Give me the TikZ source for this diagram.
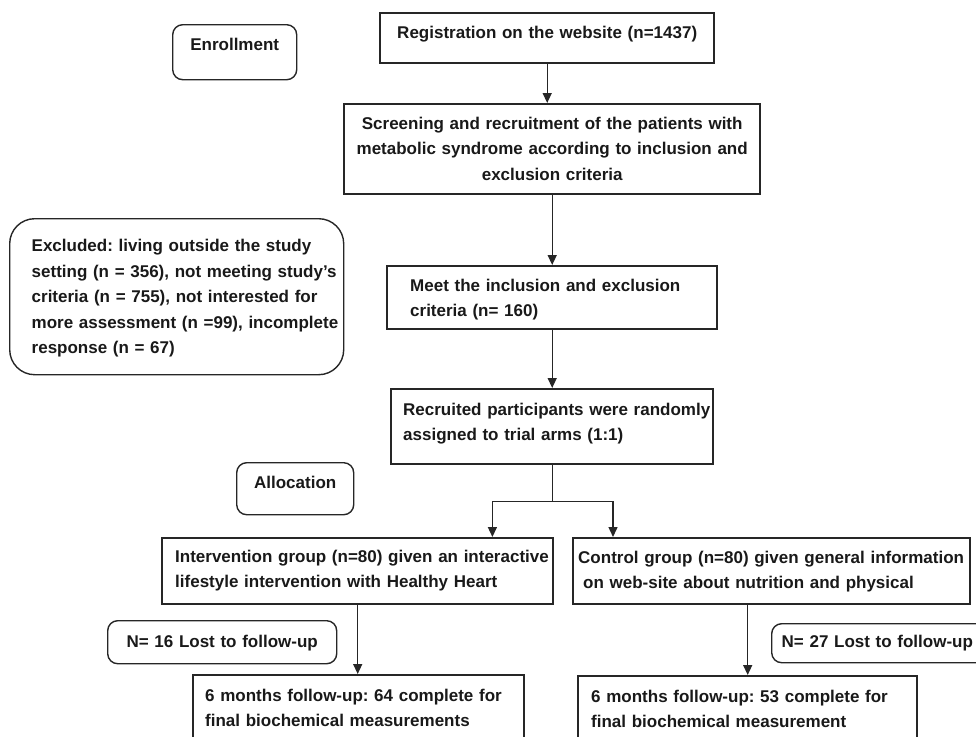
\documentclass[tikz,border=0pt]{standalone}
\usepackage{fontspec}
\setmainfont{Liberation Sans}
\usepackage{tikz}
\usetikzlibrary{arrows.meta, positioning}
\frenchspacing

\begin{document}
\begin{tikzpicture}[x=1pt, y=-1pt, >={Triangle[length=10pt,width=9pt]},
    font=\fontsize{17}{25.5}\selectfont\bfseries,
    box/.style={draw=black!85, line width=2.4pt, text=black!90, inner ysep=0pt, anchor=north west},
    rbox/.style={box, line width=1.4pt, rounded corners=10pt},
    link/.style={draw=black!85, line width=1.4pt}]
      \useasboundingbox (0,0) rectangle (976,736);
      % phase labels
      \node[rbox, align=center, text width=108pt, inner xsep=8pt, text height=26pt, text depth=29pt]
        (enroll) at (172,24) {Enrollment};
      \node[rbox, align=center, text width=101pt, inner xsep=8pt, text height=26pt, text depth=26pt]
        (alloc) at (236,462) {Allocation};
      % main column
      \node[box, align=center, text width=318pt, inner xsep=8pt, text height=25pt, text depth=25pt]
        (reg) at (379,12) {Registration on the website (n=1437)};
      \node[box, align=center, text width=400pt, inner xsep=8pt, text height=25pt, text depth=65pt]
        (screen) at (343,103) {Screening and recruitment of the patients with\\
        metabolic syndrome according to inclusion and\\ exclusion criteria};
      \node[box, align=left, text width=284pt, inner xsep=23pt, text height=25pt, text depth=38pt]
        (meet) at (386,265) {Meet the inclusion and exclusion\\ criteria (n= 160)};
      \node[box, align=left, text width=298pt, inner xsep=12pt, text height=26pt, text depth=49pt]
        (recr) at (390,388) {\mbox{Recruited participants were randomly}\\ assigned to trial arms (1:1)};
      % excluded
      \node[rbox, rounded corners=25pt, align=left, text width=290pt, inner xsep=22pt,
        text height=33pt, text depth=123pt]
        (excl) at (9,218) {Excluded: living outside the study\\
        \mbox{setting (n = 356), not meeting study's}\\
        criteria (n = 755), not interested for\\
        \mbox{more assessment (n =99), incomplete}\\
        response (n = 67)};
      % the two arms
      \node[box, align=left, text width=365pt, inner xsep=13pt, text height=24pt, text depth=42pt]
        (inter) at (161,537) {\mbox{Intervention group (n=80) given an interactive}\\
        lifestyle intervention with Healthy Heart};
      \node[box, align=left, text width=387pt, inner xsep=5pt, text height=25pt, text depth=41pt]
        (ctrl) at (572,537) {\mbox{Control group (n=80) given general information}\\
        \hspace*{5pt}on web-site about nutrition and physical};
      % losses
      \node[rbox, align=center, text width=213pt, inner xsep=8pt, text height=27pt, text depth=16pt]
        (lost1) at (107,620) {N= 16 Lost to follow-up};
      \node[rbox, align=left, text width=210pt, inner xsep=10pt, text height=24pt, text depth=15pt]
        (lost2) at (771,623) {N= 27 Lost to follow-up};
      % follow-up
      \node[box, align=left, text width=307pt, inner xsep=12pt, text height=26pt, text depth=50pt]
        (fu1) at (192,674) {6 months follow-up: 64 complete for\\ final biochemical measurements};
      \node[box, align=left, text width=313pt, inner xsep=13pt, text height=26pt, text depth=49pt]
        (fu2) at (577,675) {6 months follow-up: 53 complete for\\ final biochemical measurement};
      % arrows
      \draw[link, ->] (reg.south) -- (reg.south |- screen.north);
      \draw[link, ->] (screen.south) -- (meet.north);
      \draw[link, ->] (meet.south) -- (recr.north);
      \coordinate (split) at ([yshift=-36pt]recr.south);
      \draw[link] (recr.south) -- (split);
      \draw[link, ->] (split) -| ([xshift=-62pt]inter.north east);
      \draw[link, ->] (split) -| ([xshift=41pt]ctrl.north west);
      \draw[link, ->] (inter.south) -- (inter.south |- fu1.north);
      \draw[link, ->] (ctrl.south -| fu2.north) -- (fu2.north);
    \end{tikzpicture}
\end{document}
